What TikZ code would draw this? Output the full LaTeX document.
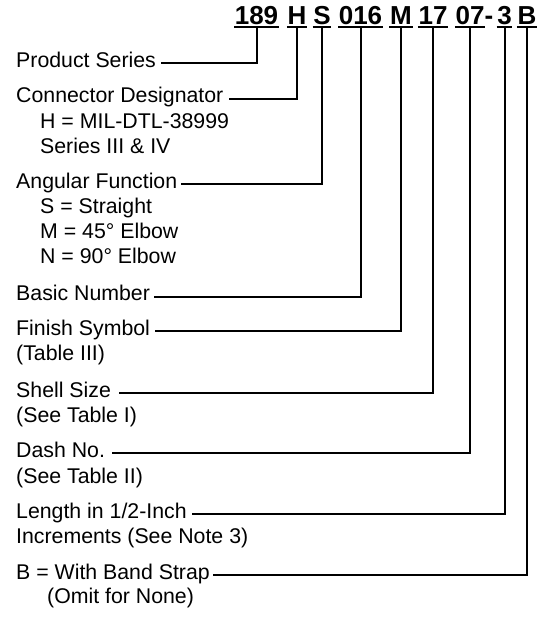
\documentclass[tikz,border=0pt]{standalone}
\usepackage{fontspec}
\setmainfont{Liberation Sans}
\tikzset{code/.style={font=\fontsize{26}{30}\selectfont\bfseries, anchor=base, inner xsep=0.5pt, inner ysep=3pt},
  lbl/.style={font=\fontsize{21.3}{25}\selectfont, anchor=base west, inner sep=0pt},
  uline/.style={line width=2pt, black}, lead/.style={line width=2pt, black}}
\begin{document}
\begin{tikzpicture}[x=1pt,y=-1pt]
\useasboundingbox (0,0) rectangle (540,624);
% ---- part number ----
\foreach \n/\txt/\x in {189/189/256.5,H/H/297,S/S/322,016/016/360.5,M/M/401,17/17/433,07/07/470,dash/-/489,3/3/504.5,B/B/527}
  \node[code] (c\n) at (\x,24) {\txt};
\foreach \n in {189,H,S,016,M,17,07,3,B} \draw[uline] (c\n.south west) -- (c\n.south east);
% ---- field labels ----
\foreach \n/\x/\y/\txt in {Series/16/67/{Product Series}, Conn/16/102.5/{Connector Designator}, ConnA/40/128/{H = MIL-DTL-38999}, ConnB/40/153/{Series III \& IV},
  Ang/16/188/{Angular Function}, AngS/40/213/{S = Straight}, AngM/40/238/{M = 45° Elbow}, AngN/40/263/{N = 90° Elbow},
  Basic/16/300.5/{Basic Number}, Finish/16/335/{Finish Symbol}, FinishT/16/360/{(Table III)}, Shell/16/397/{Shell Size}, ShellT/16/422/{(See Table I)},
  Dash/16/457/{Dash No.}, DashT/16/483/{(See Table II)}, Length/16/518/{Length in 1/2-Inch}, LengthT/16/543/{Increments (See Note 3)},
  Band/16/579/{B = With Band Strap}, BandT/47/603/{(Omit for None)}}
  \node[lbl] (l\n) at (\x,\y) {\txt};
% ---- leads ----
\foreach \c/\l/\g in {189/Series/5,H/Conn/5,S/Ang/4,016/Basic/4,M/Finish/5,17/Shell/8,07/Dash/7,3/Length/5,B/Band/3}
  \draw[lead] (c\c.south) |- ([xshift=\g pt,yshift=4pt]l\l.base east);
\end{tikzpicture}
\end{document}
